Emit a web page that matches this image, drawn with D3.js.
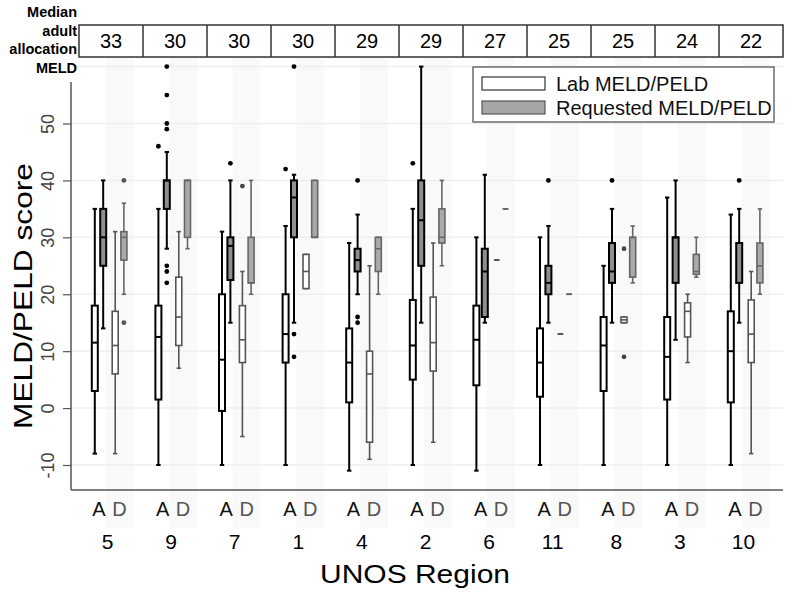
<!DOCTYPE html>
<meta charset="utf-8">
<style>
body { margin: 0; background: #fff; }
text { font-family: "Liberation Sans", Arial, sans-serif; }
</style>
<body>
<script src="https://d3js.org/d3.v7.min.js"></script>
<script>

// UNOS regions, in the order shown
var regions = ["5", "9", "7", "1", "4", "2", "6", "11", "8", "3", "10"];
var allocMELD = [33, 30, 30, 30, 29, 29, 27, 25, 25, 24, 22];
var yTicks = [-10, 0, 10, 20, 30, 40, 50];
var yGrid = [-10, 0, 10, 20, 30, 40, 50, 60];

// box stats per region: [low whisker, q1, median, q3, high whisker]
var labA = [[-8, 3, 11.5, 18, 35], [-10, 1.5, 12.5, 18, 35], [-10, -0.5, 8.5, 20, 31], [-10, 8, 13, 20, 32],
            [-11, 1, 8, 14, 29], [-10, 5, 11, 19, 35], [-11, 4, 12, 18, 30], [-10, 2, 8, 14, 30],
            [-10, 3, 11, 16, 25], [-10, 1.5, 9, 16, 37], [-10, 1, 10, 17, 34]];
var reqA = [[14, 25, 30, 35, 40], [28, 35, 40, 40, 45], [15, 22.5, 28.5, 30, 40], [15, 30, 37, 40, 41],
            [20, 24, 26, 28, 34], [15, 25, 33, 40, 60], [15, 16, 24, 28, 41], [15, 20, 22, 25, 32],
            [15, 22, 24, 29, 35], [12, 22, 30, 30, 40], [15, 22, 29, 29, 35]];
var labD = [[-8, 6, 11, 17, 31], [7, 11, 16, 23, 31], [-5, 8, 12, 18, 24], [21, 21, 24, 27, 27],
            [-9, -6, 6, 10, 25], [-6, 6.5, 11.5, 19.5, 29], [26, 26, 26, 26, 26], [13, 13, 13, 13, 13],
            [15, 15, 15.5, 16, 16], [8, 12.5, 17, 18.5, 20], [-8, 8, 13, 19, 24]];
var reqD = [[20, 26, 30, 31, 36], [28, 30, 40, 40, 40], [20, 22, 22, 30, 40], [30, 30, 30, 40, 40],
            [20, 24, 28, 30, 30], [25, 29, 30, 35, 40], [35, 35, 35, 35, 35], [20, 20, 20, 20, 20],
            [22, 23, 30, 30, 32], [23, 23.5, 24, 27, 30], [20, 22, 25, 29, 35]];

// outside values
var labAOut = [[], [46], [], [42], [], [43], [], [], [], [], []];
var reqAOut = [[], [60, 55, 50, 49, 25, 24, 22], [43], [60, 13, 9], [40, 16, 15], [], [], [40], [40], [], [40]];
var labDOut = [[], [], [39], [], [], [], [], [], [28, 9], [], []];
var reqDOut = [[40, 15], [], [], [], [], [], [], [], [], [], []];

var width = 800,
    height = 592;

var svg = d3.select("body").append("svg")
    .attr("width", width)
    .attr("height", height);

var y = d3.scaleLinear().domain([-10, 50]).range([465, 123.5]);
var x = d3.scaleBand().domain(regions).range([79, 778.6]);
var head = d3.scaleBand().domain(regions).range([79, 783]);

var series = [
  {key: "labA", stats: labA, out: labAOut, fill: "#fff", stroke: "#000", sw: 2, dot: "#000"},
  {key: "reqA", stats: reqA, out: reqAOut, fill: "#8f8f8f", stroke: "#000", sw: 2, dot: "#000"},
  {key: "labD", stats: labD, out: labDOut, fill: "#fff", stroke: "#555", sw: 1.6, dot: "#444"},
  {key: "reqD", stats: reqD, out: reqDOut, fill: "#aaa", stroke: "#666", sw: 1.6, dot: "#555"}
];
var offset = d3.scaleOrdinal().domain(series.map(function(s) { return s.key; }))
    .range([15.8, 24.2, 36.2, 44.9]);

// light bands behind the D boxes
svg.append("g").selectAll("rect")
    .data(regions)
  .enter().append("rect")
    .attr("x", function(d) { return x(d) + 26.5; })
    .attr("width", 28)
    .attr("y", 57)
    .attr("height", 471)
    .attr("fill", "#f9f9f9");

// grid
svg.append("g").selectAll("line")
    .data(yGrid)
  .enter().append("line")
    .attr("x1", 71).attr("x2", 783)
    .attr("y1", function(d) { return y(d); })
    .attr("y2", function(d) { return y(d); })
    .attr("stroke", "#efefef")
    .attr("stroke-width", 1.5);

// y axis
var yAxis = svg.append("g")
    .attr("transform", "translate(71,0)")
    .call(d3.axisLeft(y).tickValues(yTicks).tickSize(8).tickSizeOuter(0)
      .tickFormat(function(d) { return String(d); }));
yAxis.select(".domain").attr("d", "M0,82V490").attr("stroke", "#555").attr("stroke-width", 1.5);
yAxis.selectAll(".tick line").attr("stroke", "#555").attr("stroke-width", 1.2);
yAxis.selectAll(".tick text")
    .attr("x", 0).attr("y", 0).attr("dy", "0.35em")
    .attr("transform", "translate(-23,0) rotate(-90)")
    .style("text-anchor", "middle")
    .style("font-size", "18px")
    .style("font-family", "'Liberation Sans', Arial, sans-serif")
    .attr("fill", "#444");

// x axis line
svg.append("line")
    .attr("x1", 71).attr("x2", 783).attr("y1", 490).attr("y2", 490)
    .attr("stroke", "#555").attr("stroke-width", 1.5);

// boxes
series.forEach(function(s) {
  var g = svg.append("g").attr("class", s.key);
  var grp = g.selectAll("g")
      .data(regions.map(function(r, i) { return {region: r, v: s.stats[i], out: s.out[i]}; }))
    .enter().append("g")
      .attr("transform", function(d) { return "translate(" + (x(d.region) + offset(s.key)) + ",0)"; });

  grp.append("line")
      .attr("y1", function(d) { return y(d.v[0]); })
      .attr("y2", function(d) { return y(d.v[4]); })
      .attr("stroke", s.stroke).attr("stroke-width", s.sw);
  [0, 4].forEach(function(k) {
    grp.append("line")
        .attr("x1", -2.2).attr("x2", 2.2)
        .attr("y1", function(d) { return y(d.v[k]); })
        .attr("y2", function(d) { return y(d.v[k]); })
        .attr("stroke", s.stroke).attr("stroke-width", s.sw);
  });
  grp.append("rect")
      .attr("x", -3)
      .attr("width", 6)
      .attr("y", function(d) { return y(d.v[3]); })
      .attr("height", function(d) { return y(d.v[1]) - y(d.v[3]); })
      .attr("fill", s.fill)
      .attr("stroke", s.stroke).attr("stroke-width", s.sw);
  grp.append("line")
      .attr("x1", -3).attr("x2", 3)
      .attr("y1", function(d) { return y(d.v[2]); })
      .attr("y2", function(d) { return y(d.v[2]); })
      .attr("stroke", s.stroke).attr("stroke-width", s.sw);
  grp.selectAll("circle")
      .data(function(d) { return d.out; })
    .enter().append("circle")
      .attr("cy", function(d) { return y(d); })
      .attr("r", 2.4)
      .attr("fill", s.dot);
});

// header table
var hdr = svg.append("g");
hdr.append("rect")
    .attr("x", 79).attr("y", 25).attr("width", 704).attr("height", 32)
    .attr("fill", "none").attr("stroke", "#333").attr("stroke-width", 1.5);
hdr.selectAll("line")
    .data(regions.slice(1))
  .enter().append("line")
    .attr("x1", function(d) { return head(d); })
    .attr("x2", function(d) { return head(d); })
    .attr("y1", 25).attr("y2", 57)
    .attr("stroke", "#333").attr("stroke-width", 1.5);
hdr.selectAll("text")
    .data(regions)
  .enter().append("text")
    .attr("x", function(d) { return head(d) + head.bandwidth() / 2; })
    .attr("y", 48)
    .attr("text-anchor", "middle")
    .style("font-size", "20px")
    .text(function(d, i) { return allocMELD[i]; });

svg.append("g").selectAll("text")
    .data(["Median", "adult", "allocation", "MELD"])
  .enter().append("text")
    .attr("x", 77)
    .attr("y", function(d, i) { return 17 + i * 18.7; })
    .attr("text-anchor", "end")
    .style("font-size", "14.5px")
    .style("font-weight", "bold")
    .text(function(d) { return d; });

// A / D labels and region numbers
var xl = svg.append("g");
xl.selectAll(".a")
    .data(regions)
  .enter().append("text")
    .attr("x", function(d) { return x(d) + 20; })
    .attr("y", 516)
    .attr("text-anchor", "middle")
    .style("font-size", "20px")
    .attr("fill", "#111")
    .text("A");
xl.selectAll(".d")
    .data(regions)
  .enter().append("text")
    .attr("x", function(d) { return x(d) + 40.5; })
    .attr("y", 516)
    .attr("text-anchor", "middle")
    .style("font-size", "20px")
    .attr("fill", "#555")
    .text("D");
xl.selectAll(".r")
    .data(regions)
  .enter().append("text")
    .attr("x", function(d) { return x(d) + 28.5; })
    .attr("y", 549)
    .attr("text-anchor", "middle")
    .style("font-size", "21px")
    .text(function(d) { return d; });

svg.append("text")
    .attr("x", 415).attr("y", 583)
    .attr("text-anchor", "middle")
    .style("font-size", "25px")
    .attr("textLength", 190)
    .attr("lengthAdjust", "spacingAndGlyphs")
    .text("UNOS Region");

svg.append("text")
    .attr("transform", "translate(32,296) rotate(-90)")
    .attr("text-anchor", "middle")
    .style("font-size", "26px")
    .attr("textLength", 266)
    .attr("lengthAdjust", "spacingAndGlyphs")
    .text("MELD/PELD score");

// legend
var leg = svg.append("g");
leg.append("rect")
    .attr("x", 473).attr("y", 67).attr("width", 301).attr("height", 55)
    .attr("fill", "#fff").attr("stroke", "#555").attr("stroke-width", 1.3);
var legItems = [
  {label: "Lab MELD/PELD", fill: "#fff", stroke: "#333"},
  {label: "Requested MELD/PELD", fill: "#a6a6a6", stroke: "#555"}
];
legItems.forEach(function(d, i) {
  leg.append("rect")
      .attr("x", 482).attr("y", 77 + i * 24).attr("width", 63).attr("height", 13)
      .attr("fill", d.fill).attr("stroke", d.stroke).attr("stroke-width", 1.2);
  leg.append("text")
      .attr("x", 556).attr("y", 91 + i * 24)
      .style("font-size", "20px")
      .attr("fill", "#111")
      .text(d.label);
});

</script>
